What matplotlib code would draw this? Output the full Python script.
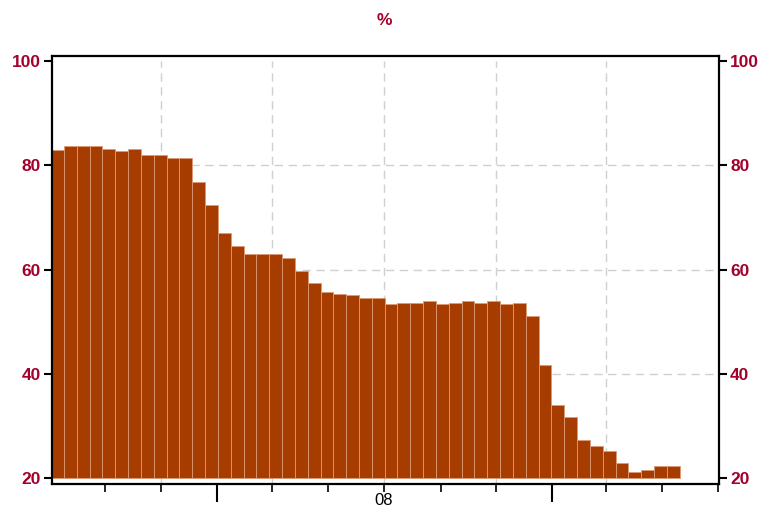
import matplotlib.pyplot as plt
import matplotlib.dates as mdates
from matplotlib import font_manager
import pandas as pd

# pick the real Arial-like files (not the Narrow ones)
bold_file = None
reg_file = None
for f in font_manager.findSystemFonts():
    if f.endswith("LiberationSans-Bold.ttf"):
        bold_file = f
    if f.endswith("LiberationSans-Regular.ttf"):
        reg_file = f
if bold_file:
    bold = font_manager.FontProperties(fname=bold_file, size=12.5)
else:
    bold = font_manager.FontProperties(family="DejaVu Sans", weight="bold", size=11.5)
if reg_file:
    reg = font_manager.FontProperties(fname=reg_file, size=12)
else:
    reg = font_manager.FontProperties(family="DejaVu Sans", size=11)

# biweekly share, %
start_date = "2007-07-04"
values = [83.0, 83.7, 83.7, 83.7, 83.1, 82.7, 83.1, 82.0, 82.0, 81.4,
          81.4, 76.8, 72.4, 67.0, 64.6, 63.1, 63.0, 63.1, 62.3, 59.8,
          57.4, 55.7, 55.3, 55.1, 54.5, 54.5, 53.4, 53.7, 53.7, 54.1,
          53.5, 53.7, 54.1, 53.7, 54.1, 53.5, 53.7, 51.2, 41.7, 34.0,
          31.8, 27.3, 26.2, 25.2, 22.9, 21.3, 21.7, 22.3, 22.3]
yticks = [20, 40, 60, 80, 100]
year_label = {7: "08"}   # month -> label shown under the year

red = "#A3002B"
bar_col = "#A63C00"

dates = pd.date_range(start_date, periods=len(values), freq="14D")

fig = plt.figure(figsize=(7.65, 5.08), dpi=100)
ax = fig.add_axes([0.068, 0.048, 0.872, 0.842])

base = 20
ax.bar(dates, [v - base for v in values], bottom=base, width=14, align="edge",
       color=bar_col, edgecolor="#DB9A76", linewidth=0.6, zorder=2)

# grid
for y in yticks[1:-1]:
    ax.axhline(y, color="#d0d0d0", ls=(0, (6, 4)), lw=1, zorder=1)
for d in pd.date_range("2007-11-01", "2009-03-01", freq="4MS"):
    ax.vlines(d, 19, 100, color="#d0d0d0", ls=(0, (6, 4)), lw=1, zorder=1)

ax.set_ylim(19, 101)
ax.set_xlim(pd.Timestamp("2007-07-05"), pd.Timestamp("2009-07-02"))

ax.set_yticks(yticks)
ax.tick_params(axis="y", which="both", left=True, right=True, labelleft=True,
               labelright=True, length=6, width=1.5, colors="black",
               labelcolor=red, pad=2)
for t in ax.yaxis.get_major_ticks():
    t.label1.set_fontproperties(bold)
    t.label2.set_fontproperties(bold)

ax.xaxis.set_major_locator(mdates.YearLocator())
ax.xaxis.set_major_formatter(plt.NullFormatter())
ax.xaxis.set_minor_locator(mdates.MonthLocator(bymonth=[1, 3, 5, 7, 9, 11]))
ax.xaxis.set_minor_formatter(plt.FuncFormatter(
    lambda x, p: year_label.get(mdates.num2date(x).month, "")
    if mdates.num2date(x).year == 2008 else ""))
ax.tick_params(axis="x", which="major", length=13, width=1.5)
ax.tick_params(axis="x", which="minor", length=6, width=1.2, pad=1)
for t in ax.xaxis.get_minor_ticks():
    t.label1.set_fontproperties(reg)

for s in ax.spines.values():
    s.set_linewidth(1.6)

fig.text(0.503, 0.96, "%", color=red, fontproperties=bold,
         ha="center", va="center")

fig.savefig("out.png", dpi=100)
